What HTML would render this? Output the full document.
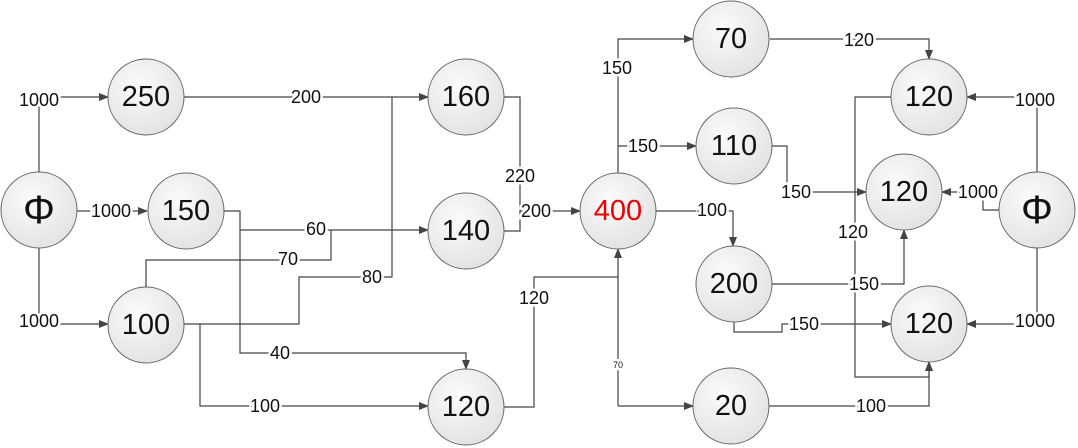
<!DOCTYPE html>
<html><head><meta charset="utf-8"><style>
html,body{margin:0;padding:0;background:#fff;}
svg{display:block;}
text{font-family:"Liberation Sans",sans-serif;}
.l{font-size:18px;fill:#111;text-anchor:middle;dominant-baseline:central;paint-order:stroke;stroke:#fff;stroke-width:5px;}
.n{font-size:29px;fill:#111;text-anchor:middle;dominant-baseline:central;}
</style></head><body>
<svg width="1078" height="448" viewBox="0 0 1078 448" xmlns="http://www.w3.org/2000/svg">
<defs>
<marker id="a" markerWidth="10" markerHeight="10" refX="9" refY="5" orient="auto" markerUnits="userSpaceOnUse">
<path d="M0,1 L10,5 L0,9 Z" fill="#444"/></marker>
<radialGradient id="g" cx="40%" cy="35%" r="70%"><stop offset="0" stop-color="#fbfbfb"/><stop offset="1" stop-color="#e2e2e2"/></radialGradient>
</defs>
<g fill="none" stroke="#444" stroke-width="1.2">
<polyline points="39,172 39,97 108,97" marker-end="url(#a)"/>
<polyline points="77,211 147,211" marker-end="url(#a)"/>
<polyline points="39,248 39,324 108,324" marker-end="url(#a)"/>
<polyline points="184,97 428,97" marker-end="url(#a)"/>
<polyline points="504,97 520,97 520,211 580,211" marker-end="url(#a)"/>
<polyline points="504,231 520,231 520,211"/>
<polyline points="224,211 240,211 240,353 466,353 466,369" marker-end="url(#a)"/>
<polyline points="240,230 428,230" marker-end="url(#a)"/>
<polyline points="146,287 146,260 331,260 331,230"/>
<polyline points="184,324 299,324 299,277 392,277 392,97"/>
<polyline points="200,324 200,406 428,406" marker-end="url(#a)"/>
<polyline points="504,407 534,407 534,277 618,277"/>
<polyline points="618,406 618,249" marker-end="url(#a)"/>
<polyline points="618,406 693,406" marker-end="url(#a)"/>
<polyline points="618,173 618,39 693,39" marker-end="url(#a)"/>
<polyline points="618,146 696,146" marker-end="url(#a)"/>
<polyline points="656,211 733,211 733,246" marker-end="url(#a)"/>
<polyline points="770,39 929,39 929,59" marker-end="url(#a)"/>
<polyline points="772,146 787,146 787,192 866,192" marker-end="url(#a)"/>
<polyline points="891,97 855,97 855,377 929,377 929,362" marker-end="url(#a)"/>
<polyline points="772,284 904,284 904,230" marker-end="url(#a)"/>
<polyline points="734,322 734,332 782,332 782,324 891,324" marker-end="url(#a)"/>
<polyline points="769,406 929,406 929,362" marker-end="url(#a)"/>
<polyline points="1037,172 1037,97 967,97" marker-end="url(#a)"/>
<polyline points="999,210 983,210 983,192 942,192" marker-end="url(#a)"/>
<polyline points="1037,248 1037,324 967,324" marker-end="url(#a)"/>
</g>
<g fill="url(#g)" stroke="#666" stroke-width="1">
<circle cx="39" cy="210" r="38"/><circle cx="146" cy="97" r="38"/><circle cx="186" cy="211" r="38"/>
<circle cx="146" cy="325" r="38"/><circle cx="466" cy="97" r="38"/><circle cx="466" cy="231" r="38"/>
<circle cx="466" cy="407" r="38"/><circle cx="618" cy="211" r="38"/><circle cx="731" cy="39" r="38"/>
<circle cx="734" cy="146" r="38"/><circle cx="734" cy="284" r="38"/><circle cx="731" cy="406" r="38"/>
<circle cx="929" cy="97" r="38"/><circle cx="904" cy="192" r="38"/><circle cx="929" cy="324" r="38"/>
<circle cx="1037" cy="210" r="38"/>
</g>
<g>
<text class="n" x="39" y="210" style="font-size:40px">Φ</text>
<text class="n" x="146" y="97">250</text><text class="n" x="186" y="211">150</text>
<text class="n" x="146" y="325">100</text><text class="n" x="466" y="97">160</text>
<text class="n" x="466" y="231">140</text><text class="n" x="466" y="407">120</text>
<text class="n" x="618" y="211" style="fill:#e00">400</text><text class="n" x="731" y="39">70</text>
<text class="n" x="734" y="146">110</text><text class="n" x="734" y="284">200</text>
<text class="n" x="731" y="406">20</text><text class="n" x="929" y="97">120</text>
<text class="n" x="904" y="192">120</text><text class="n" x="929" y="324">120</text>
<text class="n" x="1037" y="210" style="font-size:40px">Φ</text>
</g>
<g>
<text class="l" x="39" y="100">1000</text><text class="l" x="111" y="211">1000</text>
<text class="l" x="39" y="321">1000</text><text class="l" x="306" y="97">200</text>
<text class="l" x="520" y="176">220</text><text class="l" x="536" y="211">200</text>
<text class="l" x="316" y="229">60</text><text class="l" x="288" y="259">70</text>
<text class="l" x="372" y="277">80</text><text class="l" x="280" y="353">40</text>
<text class="l" x="265" y="406">100</text><text class="l" x="534" y="298">120</text>
<text class="l" x="617" y="68">150</text><text class="l" x="643" y="146">150</text>
<text class="l" x="712" y="210">100</text><text class="l" x="618" y="365" style="font-size:9px">70</text>
<text class="l" x="859" y="40">120</text><text class="l" x="796" y="192">150</text>
<text class="l" x="853" y="232">120</text><text class="l" x="864" y="284">150</text>
<text class="l" x="804" y="324">150</text><text class="l" x="871" y="406">100</text>
<text class="l" x="1035" y="100">1000</text><text class="l" x="978" y="192">1000</text>
<text class="l" x="1035" y="321">1000</text>
</g>
</svg>
</body></html>
